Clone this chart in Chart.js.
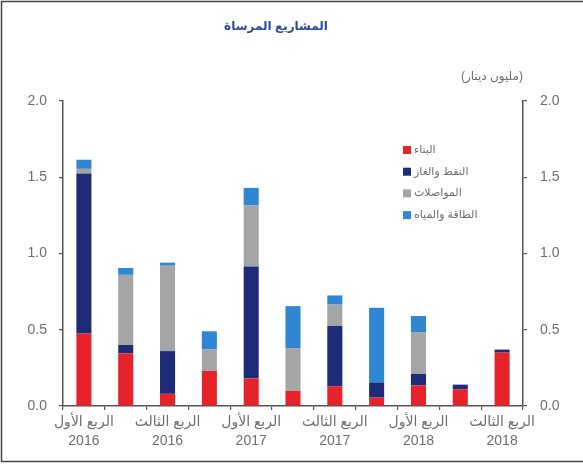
<!DOCTYPE html>
<html>
<head>
<meta charset="utf-8">
<script src="https://cdn.jsdelivr.net/npm/chart.js@4"></script>
<style>
  html, body { margin: 0; padding: 0; background: #ffffff; }
  #wrap { width: 583px; height: 470px; position: relative; }
</style>
</head>
<body>
<div id="wrap"><canvas id="c" width="583" height="470"></canvas></div>
<script>
// ---- Data ----
const categories = [
  ['الربع الأول', '2016'], '', ['الربع الثالث', '2016'], '',
  ['الربع الأول', '2017'], '', ['الربع الثالث', '2017'], '',
  ['الربع الأول', '2018'], '', ['الربع الثالث', '2018']
];
const seriesNames = ['البناء', 'النفط والغاز', 'المواصلات', 'الطاقة والمياه'];
const construction = [0.475, 0.345, 0.08, 0.23, 0.18, 0.10, 0.13, 0.055, 0.135, 0.11, 0.35];
const oilGas       = [1.05, 0.055, 0.28, 0.00, 0.735, 0.00, 0.395, 0.10, 0.075, 0.03, 0.02];
const transport    = [0.03, 0.46, 0.56, 0.14, 0.40, 0.28, 0.14, 0.00, 0.275, 0.00, 0.00];
const energyWater  = [0.06, 0.045, 0.02, 0.12, 0.115, 0.275, 0.06, 0.49, 0.105, 0.00, 0.00];
const yTicks = [0, 0.5, 1.0, 1.5, 2.0];
const titleText = 'المشاريع المرساة';
const unitText = '(مليون دينار)';

// ---- Styles ----
const colors = ['#e6222a', '#1d2b79', '#a5a5a5', '#2f86d2'];
const FONT = "'Liberation Sans', 'DejaVu Sans', Arial, sans-serif";
const axisColor = '#555555';
const textColor = '#6e6e6e';

const decorPlugin = {
  id: 'decor',
  afterDraw(chart) {
    const ctx = chart.ctx;
    const area = chart.chartArea;
    ctx.save();
    // frame
    ctx.strokeStyle = '#444444';
    ctx.lineWidth = 1.5;
    ctx.beginPath();
    ctx.moveTo(590, 1.5);
    ctx.lineTo(1.5, 1.5);
    ctx.lineTo(1.5, 461.5);
    ctx.lineTo(590, 461.5);
    ctx.stroke();
    // title
    ctx.fillStyle = '#2d4d9c';
    ctx.font = 'bold 12px ' + FONT;
    ctx.textAlign = 'center';
    ctx.textBaseline = 'middle';
    ctx.fillText(titleText, (area.left + area.right) / 2 - 17, 27);
    // unit label
    ctx.fillStyle = textColor;
    ctx.font = '12px ' + FONT;
    ctx.textAlign = 'right';
    ctx.fillText(unitText, area.right, 77);
    // legend
    ctx.font = '11px ' + FONT;
    ctx.textAlign = 'left';
    chart.data.datasets.forEach((ds, i) => {
      const y = 150 + i * 21.7;
      ctx.fillStyle = ds.backgroundColor;
      ctx.fillRect(403, y - 4, 8, 8);
      ctx.fillStyle = textColor;
      ctx.fillText(ds.label, 414, y);
    });
    ctx.restore();
  }
};

const seriesData = [construction, oilGas, transport, energyWater];

new Chart(document.getElementById('c'), {
  type: 'bar',
  data: {
    labels: categories,
    datasets: seriesData.map((d, i) => ({
      label: seriesNames[i],
      data: d,
      backgroundColor: colors[i],
      borderWidth: 0,
      barPercentage: 0.9,
      categoryPercentage: 0.4,
      yAxisID: 'y'
    }))
  },
  options: {
    responsive: false,
    animation: false,
    devicePixelRatio: 1,
    layout: { padding: { top: 101, left: 0, right: 0, bottom: 0 } },
    plugins: {
      legend: { display: false },
      title: { display: false },
      tooltip: { enabled: false }
    },
    scales: {
      x: {
        stacked: true,
        grid: { display: true, drawOnChartArea: false, drawTicks: true, tickLength: 4, color: axisColor, lineWidth: 1.2, offset: true },
        border: { display: true, color: axisColor, width: 1.5 },
        ticks: {
          autoSkip: false, maxRotation: 0, minRotation: 0, padding: 2,
          color: textColor, font: { family: FONT, size: 14, lineHeight: 1.4 }
        },
        afterFit(scale) { scale.height = 64; }
      },
      y: {
        position: 'left',
        stacked: true,
        min: 0, max: 2,
        afterBuildTicks(scale) { scale.ticks = yTicks.map(v => ({ value: v })); },
        grid: { display: true, drawOnChartArea: false, drawTicks: true, tickLength: 4, color: axisColor, lineWidth: 1.2 },
        border: { display: true, color: axisColor, width: 1.5 },
        ticks: { padding: 12, color: textColor, font: { family: FONT, size: 14 }, callback: v => Number(v).toFixed(1) },
        afterFit(scale) { scale.width = 63; }
      },
      y1: {
        position: 'right',
        min: 0, max: 2,
        afterBuildTicks(scale) { scale.ticks = yTicks.map(v => ({ value: v })); },
        grid: { display: true, drawOnChartArea: false, drawTicks: true, tickLength: 4, color: axisColor, lineWidth: 1.2 },
        border: { display: true, color: axisColor, width: 1.5 },
        ticks: { padding: 13, color: textColor, font: { family: FONT, size: 14 }, callback: v => Number(v).toFixed(1) },
        afterFit(scale) { scale.width = 60; }
      }
    }
  },
  plugins: [decorPlugin]
});
</script>
</body>
</html>
